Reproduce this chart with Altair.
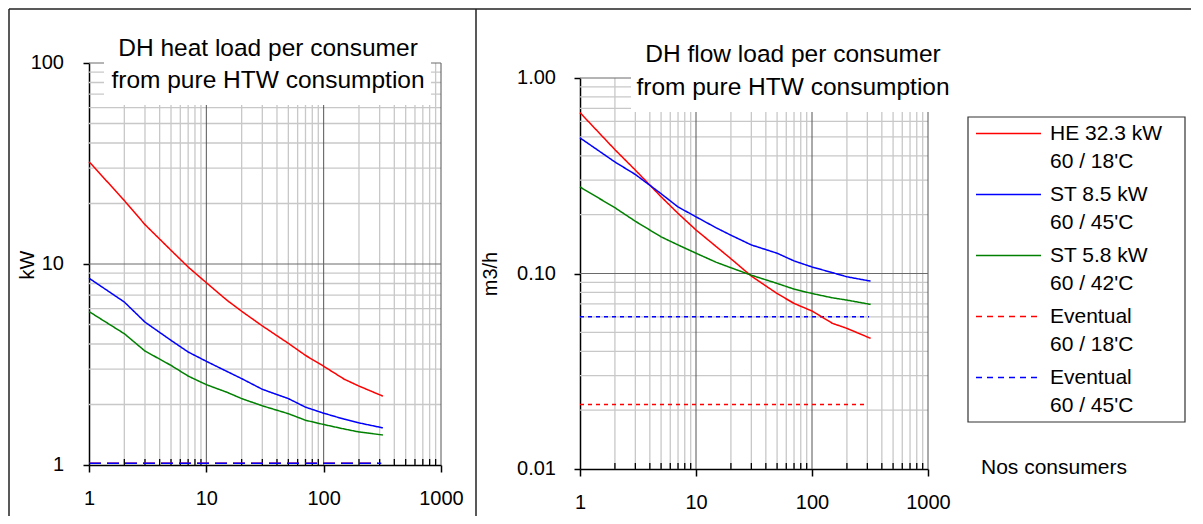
import altair as alt
import pandas as pd

# ---------------- data ----------------
N = [1, 2, 3, 5, 7, 10, 15, 20, 30, 50, 70, 100, 150, 200, 320]

HEAT_HE = [32.3, 20.7, 15.7, 11.7, 9.66, 8.07, 6.6, 5.82, 4.92, 4.03, 3.51, 3.10, 2.67, 2.47, 2.20]
HEAT_ST85 = [8.5, 6.47, 5.14, 4.17, 3.65, 3.28, 2.92, 2.69, 2.38, 2.14, 1.94, 1.81, 1.69, 1.62, 1.53]
HEAT_ST58 = [5.8, 4.50, 3.69, 3.13, 2.77, 2.51, 2.30, 2.14, 1.97, 1.80, 1.67, 1.59, 1.51, 1.46, 1.41]

FLOW_HE = [0.665, 0.430, 0.338, 0.247, 0.203, 0.167, 0.137, 0.119, 0.097, 0.079, 0.0703, 0.0643, 0.0556, 0.0524, 0.0466]
FLOW_ST85 = [0.494, 0.372, 0.321, 0.256, 0.219, 0.195, 0.171, 0.157, 0.140, 0.127, 0.116, 0.108, 0.101, 0.0962, 0.0914]
FLOW_ST58 = [0.277, 0.217, 0.185, 0.154, 0.140, 0.127, 0.114, 0.107, 0.098, 0.089, 0.0832, 0.079, 0.0751, 0.0731, 0.0695]

N_EV18 = [1, 290]
N_EV45 = [1, 310]
HEAT_EV18 = [1.02, 1.02]
HEAT_EV45 = [1.02, 1.02]
FLOW_EV18 = [0.0214, 0.0214]
FLOW_EV45 = [0.060, 0.060]

KEYS = ["he", "st85", "st58", "ev18", "ev45"]
LABELS = ["HE 32.3 kW\n60 / 18'C", "ST 8.5 kW\n60 / 45'C", "ST 5.8 kW\n60 / 42'C",
          "Eventual\n60 / 18'C", "Eventual\n60 / 45'C"]
COLORS = ["#FF0000", "#0000FF", "#008000", "#FF0000", "#0000FF"]

X_MAJOR = [1, 10, 100, 1000]
X_MINOR = [2, 3, 4, 5, 6, 7, 8, 9, 20, 30, 40, 50, 60, 70, 80, 90,
           200, 300, 400, 500, 600, 700, 800, 900]
X_GRID_MAJOR = [10, 100, 1000]
HEAT_TICKS = [1, 10, 100]
HEAT_TICK_LABELS = ["1", "10", "100"]
HEAT_GRID_MAJOR = [10, 100]
HEAT_GRID_MINOR = [2, 3, 4, 5, 6, 7, 8, 9, 20, 30, 40, 50, 60, 70, 80, 90]
FLOW_TICKS = [0.01, 0.1, 1.0]
FLOW_TICK_LABELS = ["0.01", "0.10", "1.00"]
FLOW_GRID_MAJOR = [0.1, 1.0]
FLOW_GRID_MINOR = [0.02, 0.03, 0.04, 0.05, 0.06, 0.07, 0.08, 0.09,
                   0.2, 0.3, 0.4, 0.5, 0.6, 0.7, 0.8, 0.9]

FONT = "Liberation Sans"
PH = 406  # common panel height (plot tops differ via scale range)
BOTTOM = 453  # frame lines bottom, relative to panel origin


def series_df(cols):
    rows = []
    for key, ns, vs in cols:
        for n, v in zip(ns, vs):
            rows.append({"n": n, "v": v, "key": key})
    return pd.DataFrame(rows)


heat_df = series_df([
    ("ev18", N_EV18, HEAT_EV18), ("ev45", N_EV45, HEAT_EV45),
    ("he", N, HEAT_HE), ("st85", N, HEAT_ST85), ("st58", N, HEAT_ST58)])
flow_df = series_df([
    ("ev18", N_EV18, FLOW_EV18), ("ev45", N_EV45, FLOW_EV45),
    ("he", N, FLOW_HE), ("st85", N, FLOW_ST85), ("st58", N, FLOW_ST58)])

ONE = pd.DataFrame({"a": [0]})


def frame_rules(frames):
    out = []
    for (x1, x2, y1, y2) in frames:
        if x1 == x2:
            out.append(alt.Chart(ONE).mark_rule(color="#222222", strokeWidth=1.5).encode(
                x=alt.value(x1), y=alt.value(y1), y2=alt.value(y2)))
        else:
            out.append(alt.Chart(ONE).mark_rule(color="#222222", strokeWidth=1.5).encode(
                x=alt.value(x1), x2=alt.value(x2), y=alt.value(y1)))
    return out


def panel(df, ydomain, yrange, yticks, ylabels, ygrid_major, ygrid_minor, W, H, dashes,
          ylab_dx, title, tbox, tcx, tcy, tlh, ytitle, ytx, yty, frames):
    top = yrange[1]
    xscale = alt.Scale(type="log", domain=[1, 1000])
    yscale = alt.Scale(type="log", domain=ydomain, range=yrange)
    xaxis = alt.Axis(values=X_MAJOR, format="d", tickSize=7, labelPadding=16,
                     grid=False, title=None, domainColor="black", tickColor="black",
                     domainWidth=1.5, tickWidth=1.5, labelFontSize=20,
                     labelColor="black", labelFont=FONT, labelFlush=False,
                     labelAlign="center", labelBaseline="top")
    yaxis = alt.Axis(values=yticks, tickSize=6, labels=False,
                     grid=False, title=None, domainColor="black", tickColor="black",
                     domainWidth=1.5, tickWidth=1.5)
    X = alt.X("n:Q", scale=xscale, axis=xaxis)
    Y = alt.Y("v:Q", scale=yscale, axis=yaxis)

    vmin = alt.Chart(pd.DataFrame({"n": X_MINOR})).mark_rule(
        color="#c8c8c8", strokeWidth=1.3).encode(x=X, y=alt.value(top), y2=alt.value(H))
    hmin = alt.Chart(pd.DataFrame({"v": ygrid_minor})).mark_rule(
        color="#c8c8c8", strokeWidth=1.3).encode(y=Y, x=alt.value(0), x2=alt.value(W))
    vmaj = alt.Chart(pd.DataFrame({"n": X_GRID_MAJOR})).mark_rule(
        color="#555555", strokeWidth=1).encode(x=X, y=alt.value(top), y2=alt.value(H))
    hmaj = alt.Chart(pd.DataFrame({"v": ygrid_major})).mark_rule(
        color="#6a6a6a", strokeWidth=1).encode(y=Y, x=alt.value(0), x2=alt.value(W))
    box = alt.Chart(ONE).mark_rect(color="white").encode(
        x=alt.value(tbox[0]), x2=alt.value(tbox[1]),
        y=alt.value(tbox[2]), y2=alt.value(tbox[3]))
    ttl = alt.Chart(ONE).mark_text(
        fontSize=24.5, font=FONT, lineBreak="\n", lineHeight=tlh, align="center",
        baseline="middle", color="black").encode(
        x=alt.value(tcx), y=alt.value(tcy), text=alt.value(title))
    mticks = alt.Chart(pd.DataFrame({"n": X_MINOR})).mark_rule(
        color="black", strokeWidth=1.3).encode(x=X, y=alt.value(H), y2=alt.value(H - 6))

    def line_layer(data):
        return alt.Chart(data).mark_line().encode(
            x=X, y=Y,
            color=alt.Color("key:N", scale=alt.Scale(domain=KEYS, range=COLORS), legend=None),
            strokeDash=alt.StrokeDash("key:N", scale=alt.Scale(domain=KEYS, range=dashes), legend=None),
            size=alt.Size("key:N", scale=alt.Scale(domain=KEYS, range=[1.5, 1.5, 1.5, 2.2, 2.2]), legend=None),
        )
    # red "Eventual" first so the blue one is drawn on top where they coincide
    lines_a = line_layer(df[df["key"] == "ev18"])
    lines_b = line_layer(df[df["key"] != "ev18"])
    ylab = alt.Chart(pd.DataFrame({"v": yticks, "lab": ylabels})).mark_text(
        align="right", baseline="middle", fontSize=20, font=FONT, color="black").encode(
        x=alt.value(ylab_dx), y=Y, text="lab:N")
    yt = alt.Chart(ONE).mark_text(
        fontSize=20, font=FONT, angle=270, align="center", baseline="middle",
        color="black").encode(x=alt.value(ytx), y=alt.value(yty), text=alt.value(ytitle))
    layers = [vmin, hmin, vmaj, hmaj, box, ttl, mticks, lines_a, lines_b, ylab, yt] + frame_rules(frames)
    return alt.layer(*layers).properties(width=W, height=H)


# left plot origin ~ page (88, 61); right plot origin page (579, 61) with its
# y range starting 15px lower; legend origin page (1066, 61)
left = panel(heat_df, [1, 100], [402, 0], HEAT_TICKS, HEAT_TICK_LABELS,
             HEAT_GRID_MAJOR, HEAT_GRID_MINOR,
             352, 402, [[1, 0], [1, 0], [1, 0], [12, 6], [12, 6]], -25,
             "DH heat load per consumer\nfrom pure HTW consumption",
             (15, 342, -2, 42), 179, -14, 32, "kW", -61, 202,
             [(-80, -80, -54, BOTTOM), (-80, 387, -54, -54)])

right = panel(flow_df, [0.01, 1], [PH, 15], FLOW_TICKS, FLOW_TICK_LABELS,
              FLOW_GRID_MAJOR, FLOW_GRID_MINOR,
              348, PH, [[1, 0], [1, 0], [1, 0], [4, 4], [4, 4]], -24,
              "DH flow load per consumer\nfrom pure HTW consumption",
              (51, 376, 10, 49), 213, -8, 33, "m3/h", -89, 211,
              [(-104, -104, -54, BOTTOM), (-104, 388, -54, -54)])

# ---------------- legend panel ----------------
LX0 = -99          # legend box left, relative to legend panel origin
LW = 217
BOX_T, BOX_B = 54, 359
leg_df = pd.DataFrame({"key": KEYS, "label": LABELS})
lscale = alt.Scale(type="point", domain=KEYS, padding=0.5, range=[BOX_T, BOX_B])
LY = alt.Y("key:N", scale=lscale, axis=None)
leg_sym = alt.Chart(leg_df).mark_rule(yOffset=-14).encode(
    x=alt.value(LX0 + 8), x2=alt.value(LX0 + 73), y=LY,
    color=alt.Color("key:N", scale=alt.Scale(domain=KEYS, range=COLORS), legend=None),
    strokeDash=alt.StrokeDash("key:N", scale=alt.Scale(
        domain=KEYS, range=[[1, 0], [1, 0], [1, 0], [6, 5], [6, 5]]), legend=None),
    size=alt.Size("key:N", scale=alt.Scale(domain=KEYS, range=[1.5, 1.5, 1.5, 2, 2]), legend=None),
)
leg_txt = alt.Chart(leg_df).mark_text(
    align="left", baseline="middle", lineBreak="\n", lineHeight=28, fontSize=21,
    font=FONT, color="black", dy=-14).encode(x=alt.value(LX0 + 82), y=LY, text="label:N")
leg_box = alt.Chart(ONE).mark_rect(fillOpacity=0, stroke="#333333", strokeWidth=1.2).encode(
    x=alt.value(LX0), x2=alt.value(LX0 + LW), y=alt.value(BOX_T), y2=alt.value(BOX_B))
nos = alt.Chart(ONE).mark_text(
    align="left", baseline="middle", fontSize=21, font=FONT, color="black").encode(
    x=alt.value(LX0 + 13), y=alt.value(405), text=alt.value("Nos consumers"))
legend = alt.layer(leg_box, leg_sym, leg_txt, nos,
                   *frame_rules([(LX0, 124, -54, -54)])).properties(width=120, height=PH)

chart = alt.hconcat(left, right, legend, spacing=139, bounds="flush").resolve_scale(
    x="independent", y="independent", color="independent",
    strokeDash="independent", size="independent"
).properties(padding=0).configure(
    font=FONT, view=alt.ViewConfig(stroke="transparent", strokeWidth=0))

chart.save("out.html", embed_options={"renderer": "svg", "actions": False})
